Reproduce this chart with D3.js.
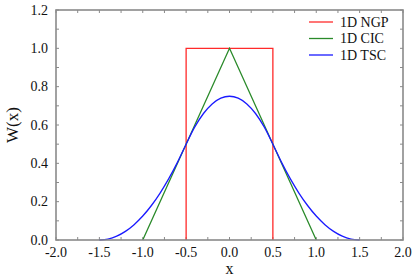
<!DOCTYPE html>
<html><head><meta charset="utf-8">
<script src="https://cdn.jsdelivr.net/npm/d3@7"></script>
<style>body{margin:0;background:#fff}svg{display:block}</style>
</head><body><svg id="c" width="416" height="278"></svg>
<script>
const xTicks = [-2.0,-1.5,-1.0,-0.5,0.0,0.5,1.0,1.5,2.0];
const yTicks = [0.0,0.2,0.4,0.6,0.8,1.0,1.2];
const seriesNames = ["1D NGP","1D CIC","1D TSC"];
const seriesColors = ["#ff2a2a","#2a8a2a","#1a1aff"];
const ngpX = [-0.5,-0.5,0.5,0.5];
const ngpY = [0,1,1,0];
const cicX = [-1.0,0.0,1.0];
const cicY = [0,1,0];
const tscX = [-1.5,-1.4,-1.3,-1.2,-1.1,-1.0,-0.9,-0.8,-0.7,-0.6,-0.5,-0.4,-0.3,-0.2,-0.1,0.0,0.1,0.2,0.3,0.4,0.5,0.6,0.7,0.8,0.9,1.0,1.1,1.2,1.3,1.4,1.5];
const tscY = [0,0.005,0.02,0.045,0.08,0.125,0.18,0.245,0.32,0.405,0.5,0.59,0.66,0.71,0.74,0.75,0.74,0.71,0.66,0.59,0.5,0.405,0.32,0.245,0.18,0.125,0.08,0.045,0.02,0.005,0];

const FONT = "Liberation Serif";
const svg = d3.select("#c");
const L=56,R=403,T=10,B=240;
const x = d3.scaleLinear().domain([-2,2]).range([L,R]);
const y = d3.scaleLinear().domain([0,1.2]).range([B,T]);
const grey="#8a8a8a";

const g = svg.append("g");
const xMinor = d3.range(-2,2.0001,0.25);
const yMinor = d3.range(0,1.2001,0.1);
xMinor.forEach(v=>{
  g.append("line").attr("x1",x(v)).attr("x2",x(v)).attr("y1",B).attr("y2",B-3).attr("stroke",grey).attr("stroke-width",1);
  g.append("line").attr("x1",x(v)).attr("x2",x(v)).attr("y1",T).attr("y2",T+3).attr("stroke",grey).attr("stroke-width",1);
});
yMinor.forEach(v=>{
  g.append("line").attr("x1",L).attr("x2",L+3).attr("y1",y(v)).attr("y2",y(v)).attr("stroke",grey).attr("stroke-width",1);
  g.append("line").attr("x1",R).attr("x2",R-3).attr("y1",y(v)).attr("y2",y(v)).attr("stroke",grey).attr("stroke-width",1);
});

const line = d3.line().x(d=>x(d[0])).y(d=>y(d[1]));
const lineC = d3.line().x(d=>x(d[0])).y(d=>y(d[1])).curve(d3.curveMonotoneX);
const ngp = ngpX.map((v,i)=>[v,ngpY[i]]);
const cic = cicX.map((v,i)=>[v,cicY[i]]);
const tsc = tscX.map((v,i)=>[v,tscY[i]]);
svg.append("path").attr("d",line(ngp)).attr("fill","none").attr("stroke",seriesColors[0]).attr("stroke-width",1.3);
svg.append("path").attr("d",line(cic)).attr("fill","none").attr("stroke",seriesColors[1]).attr("stroke-width",1.3);
svg.append("path").attr("d",lineC(tsc)).attr("fill","none").attr("stroke",seriesColors[2]).attr("stroke-width",1.3);

svg.append("rect").attr("x",L).attr("y",T).attr("width",R-L).attr("height",B-T).attr("fill","none").attr("stroke",grey).attr("stroke-width",1.6);

function txt(){ return svg.append("text").style("font-family",FONT).attr("fill","#111"); }
xTicks.forEach(v=>{
  txt().attr("x",x(v)).attr("y",B+17).attr("text-anchor","middle").attr("font-size",14).text(v.toFixed(1));
});
yTicks.forEach(v=>{
  txt().attr("x",L-8).attr("y",y(v)+4.5).attr("text-anchor","end").attr("font-size",14).text(v.toFixed(1));
});
txt().attr("x",(L+R)/2).attr("y",274).attr("text-anchor","middle").attr("font-size",16).text("x");
txt().attr("transform","translate(18,"+((T+B)/2)+") rotate(-90)").attr("text-anchor","middle").attr("font-size",17).text("W(x)");

seriesNames.forEach((n,i)=>{
  const yy = 22 + i*16.5;
  svg.append("line").attr("x1",309).attr("x2",333).attr("y1",yy).attr("y2",yy).attr("stroke",seriesColors[i]).attr("stroke-width",1.3);
  txt().attr("x",340).attr("y",yy+4.5).attr("font-size",14).text(n);
});
</script></body></html>
